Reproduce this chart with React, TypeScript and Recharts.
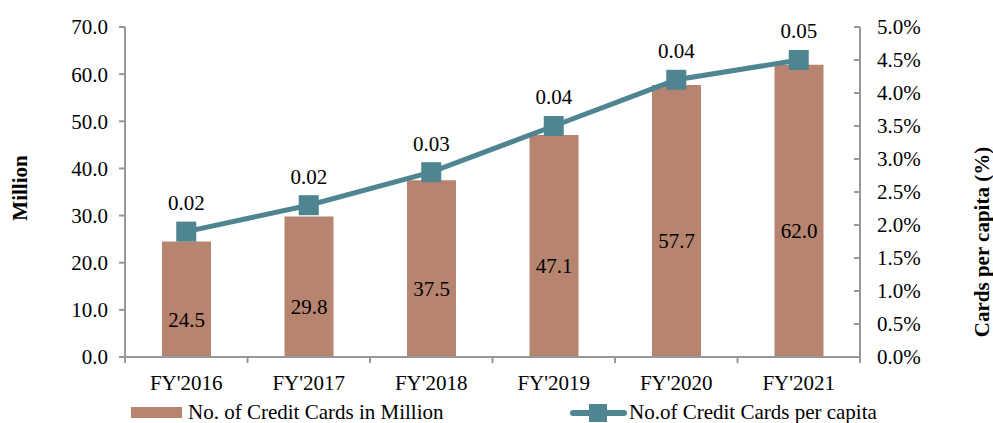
import React from "react";
import {
  ComposedChart,
  Bar,
  Line,
  XAxis,
  YAxis,
  LabelList,
} from "recharts";

const years = ["FY'2016", "FY'2017", "FY'2018", "FY'2019", "FY'2020", "FY'2021"];
const cardsMillion = [24.5, 29.8, 37.5, 47.1, 57.7, 62.0];
const perCapitaPct = [1.9, 2.3, 2.8, 3.5, 4.2, 4.5];
const perCapitaLabels = ["0.02", "0.02", "0.03", "0.04", "0.04", "0.05"];
const leftTicks = [0, 10, 20, 30, 40, 50, 60, 70];
const rightTicks = [0, 0.5, 1, 1.5, 2, 2.5, 3, 3.5, 4, 4.5, 5];

const data = years.map((y, i) => ({
  year: y,
  cards: cardsMillion[i],
  perCapita: perCapitaPct[i],
  perCapitaLabel: perCapitaLabels[i],
}));

const FONT = '"Liberation Serif", "Times New Roman", serif';
const BAR = "#B6846F";
const LINE = "#4F8591";
const AXIS = "#989898";
const FS = 21;

const BAND = 735 / years.length;

function XTick(props: any) {
  const { x, y, payload, index } = props;
  return (
    <g>
      <line x1={x - BAND / 2} x2={x - BAND / 2} y1={y} y2={y + 6} stroke={AXIS} strokeWidth={2} />
      {index === years.length - 1 && (
        <line x1={x + BAND / 2} x2={x + BAND / 2} y1={y} y2={y + 6} stroke={AXIS} strokeWidth={2} />
      )}
      <text x={x} y={y + 33} textAnchor="middle" fontFamily={FONT} fontSize={FS} fill="#000">
        {payload.value}
      </text>
    </g>
  );
}

function RightTick(props: any) {
  const { x, y, payload } = props;
  return (
    <g>
      <line x1={x - 17} x2={x - 23} y1={y} y2={y} stroke={AXIS} strokeWidth={2} />
      <text x={x} y={y} dy="0.355em" textAnchor="start" fontFamily={FONT} fontSize={FS} fill="#000">
        {`${Number(payload.value).toFixed(1)}%`}
      </text>
    </g>
  );
}

function SquareDot(props: any) {
  const { cx, cy } = props;
  if (cx == null || cy == null) return null;
  return <rect x={cx - 10} y={cy - 10} width={20} height={20} fill={LINE} />;
}

function BarLabel(props: any) {
  const { x, y, width, height, value } = props;
  return (
    <text
      x={x + width / 2}
      y={y + height / 2 + 20}
      dy="0.355em"
      textAnchor="middle"
      fontFamily={FONT}
      fontSize={FS}
      fill="#000"
    >
      {Number(value).toFixed(1)}
    </text>
  );
}

function LineLabel(props: any) {
  const { x, y, value } = props;
  return (
    <text x={x} y={y - 29} dy="0.355em" textAnchor="middle" fontFamily={FONT} fontSize={FS} fill="#000">
      {value}
    </text>
  );
}

export default function App() {
  return (
    <div style={{ position: "absolute", left: 0, top: 0, width: 993, height: 423, background: "#fff" }}>
      <ComposedChart
        width={993}
        height={423}
        data={data}
        margin={{ top: 27, right: 0, bottom: 36, left: 0 }}
        barCategoryGap={0}
      >
        <XAxis
          dataKey="year"
          height={30}
          axisLine={{ stroke: AXIS, strokeWidth: 2 }}
          tickLine={false}
          tickSize={0}
          tickMargin={0}
          tick={<XTick />}
          interval={0}
        />
        <YAxis
          yAxisId="left"
          width={125}
          domain={[0, 70]}
          ticks={leftTicks}
          tickFormatter={(v: number) => v.toFixed(1)}
          axisLine={{ stroke: AXIS, strokeWidth: 2 }}
          tickLine={{ stroke: AXIS, strokeWidth: 2 }}
          tickSize={6}
          tickMargin={11}
          tick={{ fill: "#000", fontSize: FS, fontFamily: FONT }}
          interval={0}
        />
        <YAxis
          yAxisId="right"
          orientation="right"
          width={133}
          domain={[0, 5]}
          ticks={rightTicks}
          axisLine={{ stroke: AXIS, strokeWidth: 2 }}
          tickLine={false}
          tickSize={0}
          tickMargin={17}
          tick={<RightTick />}
          interval={0}
        />
        <Bar yAxisId="left" dataKey="cards" fill={BAR} barSize={49} isAnimationActive={false}>
          <LabelList dataKey="cards" content={<BarLabel />} />
        </Bar>
        <Line
          yAxisId="right"
          dataKey="perCapita"
          stroke={LINE}
          strokeWidth={5}
          dot={<SquareDot />}
          activeDot={false}
          isAnimationActive={false}
        >
          <LabelList dataKey="perCapitaLabel" content={<LineLabel />} />
        </Line>
        <text
          x={20}
          y={188}
          transform="rotate(-90 20 188)"
          textAnchor="middle"
          dy="0.355em"
          fontFamily={FONT}
          fontSize={FS}
          fontWeight="bold"
          fill="#000"
        >
          Million
        </text>
        <text
          x={982}
          y={242}
          transform="rotate(-90 982 242)"
          textAnchor="middle"
          dy="0.355em"
          fontFamily={FONT}
          fontSize={FS}
          fontWeight="bold"
          fill="#000"
        >
          Cards per capita (%)
        </text>
      </ComposedChart>
      <div
        style={{
          position: "absolute",
          left: 131,
          top: 400,
          display: "flex",
          alignItems: "center",
          fontFamily: FONT,
          fontSize: FS,
          color: "#000",
          whiteSpace: "nowrap",
        }}
      >
        <span style={{ display: "inline-block", width: 51, height: 11, background: BAR, marginRight: 6 }} />
        <span>No. of Credit Cards in Million</span>
      </div>
      <div
        style={{
          position: "absolute",
          left: 570,
          top: 400,
          display: "flex",
          alignItems: "center",
          fontFamily: FONT,
          fontSize: FS,
          color: "#000",
          whiteSpace: "nowrap",
        }}
      >
        <span style={{ position: "relative", display: "inline-block", width: 57, height: 20, marginRight: 2 }}>
          <span style={{ position: "absolute", left: 0, top: 7, width: 57, height: 6, background: LINE, borderRadius: 3 }} />
          <span style={{ position: "absolute", left: 19, top: 1, width: 18, height: 18, background: LINE }} />
        </span>
        <span>No.of Credit Cards per capita</span>
      </div>
    </div>
  );
}
